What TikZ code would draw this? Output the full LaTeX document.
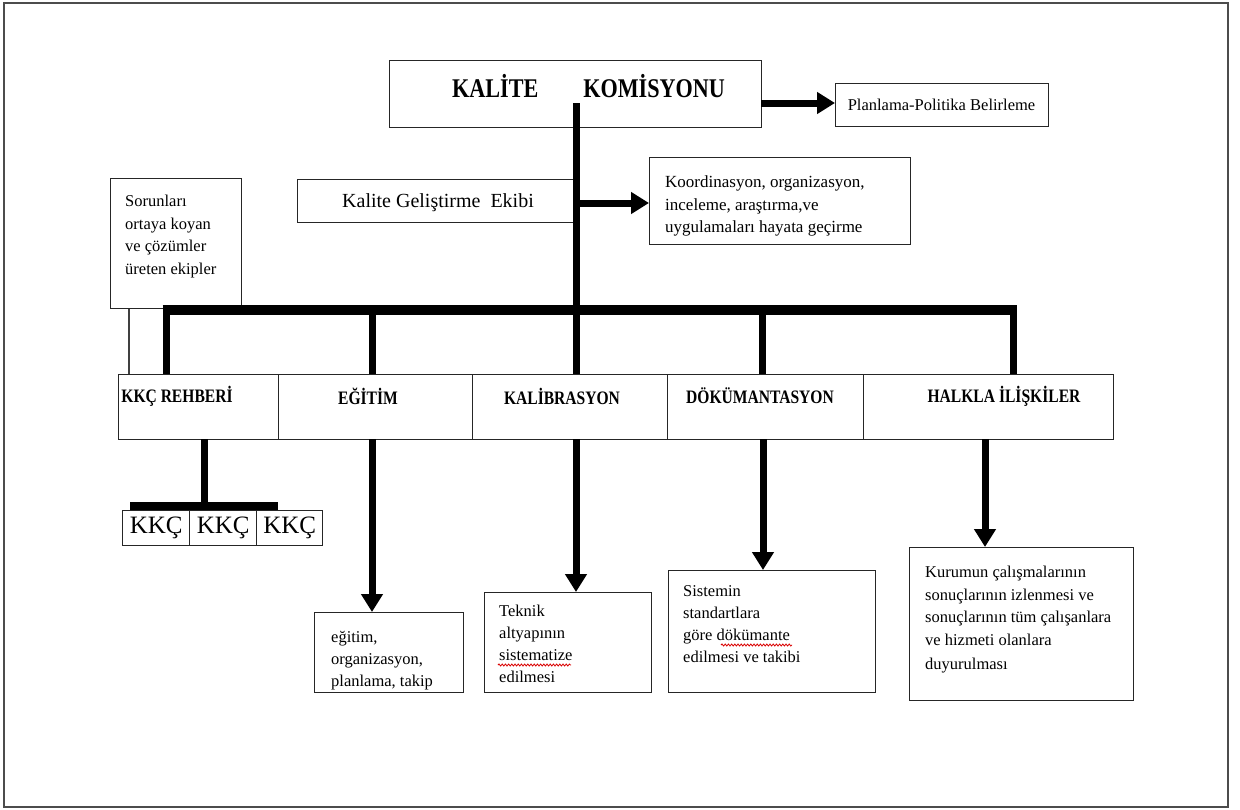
\documentclass[tikz,border=0pt]{standalone}
\usepackage{fontspec}
\setmainfont{Liberation Serif}
\newfontfamily\capsfont[FakeStretch=0.82]{Liberation Serif}
\usetikzlibrary{arrows.meta,decorations.pathmorphing}

\begin{document}
\begin{tikzpicture}[x=1pt,y=-1pt,
  box/.style={draw=black!85, line width=1.3pt, inner sep=0pt, anchor=north west},
  body/.style={anchor=north west, align=left, inner sep=0pt,
               font=\fontsize{16.5}{22}\selectfont},
  lbl/.style={inner sep=0pt, font=\capsfont\bfseries\fontsize{19}{22}\selectfont},
  bus/.style={line width=10pt},
  link/.style={line width=7pt},
  thinlink/.style={line width=1.2pt, draw=black!75},
  arr/.style={line width=7pt, -{Triangle[length=18pt,width=21pt]}},
  spell/.style={draw=red!85!black, line width=0.8pt, decorate,
                decoration={snake, amplitude=1pt, segment length=3.2pt}},
]
\useasboundingbox (0,0) rectangle (1240,809);
\draw[draw=black!70, line width=1.5pt] (4,3) rectangle (1228,807);

% top level
\node[box, minimum width=372pt, minimum height=67pt] (kom) at (389,60) {};
\node[anchor=base west, inner sep=0pt,
      font=\capsfont\bfseries\fontsize{27}{30}\selectfont] (komt) at (452,97)
      {KALİTE\hspace{45pt}KOMİSYONU};
\node[box, minimum width=213pt, minimum height=43pt] (plan) at (835,83) {};
\node[inner sep=0pt, font=\fontsize{16.5}{20}\selectfont] (plant) at (941.5,104.5)
      {Planlama-Politika Belirleme};

% quality improvement team
\node[box, minimum width=278pt, minimum height=43pt] (keg) at (297,179) {};
\node[inner sep=0pt, font=\fontsize{20}{24}\selectfont] (kegt) at (438,203)
      {Kalite Geliştirme\ \ Ekibi};
\node[box, minimum width=261pt, minimum height=87pt] (koor) at (649,157) {};
\node[body, font=\fontsize{17}{22}\selectfont] (koort) at (665,176)
      {Koordinasyon, organizasyon,\\inceleme, araştırma,ve\\uygulamaları hayata geçirme};

% teams box
\node[box, minimum width=131pt, minimum height=130pt] (sorun) at (110,178) {};
\node[body, font=\fontsize{16.5}{22.5}\selectfont] (sorunt) at (125,195)
      {Sorunları\\ortaya koyan\\ve çözümler\\üreten ekipler};

% row of units
\node[box, minimum width=160pt, minimum height=65pt] (rehber) at (118,374) {};
\node[box, minimum width=194pt, minimum height=65pt] (egitim) at (278,374) {};
\node[box, minimum width=195pt, minimum height=65pt] (kalib)  at (472,374) {};
\node[box, minimum width=196pt, minimum height=65pt] (dokum)  at (667,374) {};
\node[box, minimum width=250pt, minimum height=65pt] (halkla) at (863,374) {};
\node[lbl] (rehbert) at (177,396) {KKÇ REHBERİ};
\node[lbl] (egitimt) at (368,396) {EĞİTİM};
\node[lbl] (kalibt)  at (562,396) {KALİBRASYON};
\node[lbl] (dokumt)  at (760,396) {DÖKÜMANTASYON};
\node[lbl] (halklat) at (1004,396) {HALKLA İLİŞKİLER};

% circles under the guide
\node[box, minimum width=67pt, minimum height=35pt] (k1) at (122,510) {};
\node[box, minimum width=67pt, minimum height=35pt] (k2) at (189,510) {};
\node[box, minimum width=66pt, minimum height=35pt] (k3) at (256,510) {};
\foreach \k in {k1,k2,k3}
  \node[inner sep=0pt, font=\fontsize{25}{28}\selectfont] (\k t) at (\k.center) {KKÇ};

% unit duties
\node[box, minimum width=149pt, minimum height=80pt] (egd) at (314,612) {};
\node[body] (egdt) at (331,631.5) {eğitim,\\organizasyon,\\planlama, takip};
\node[box, minimum width=167pt, minimum height=100pt] (kad) at (484,592) {};
\node[body] (kadt) at (499,604.5) {Teknik\\altyapının\\sistematize\\edilmesi};
\node[box, minimum width=207pt, minimum height=122pt] (dod) at (668,570) {};
\node[body] (dodt) at (683,585.5) {Sistemin\\standartlara\\göre dökümante\\edilmesi ve takibi};
\node[box, minimum width=224pt, minimum height=153pt] (had) at (909,547) {};
\node[body, font=\fontsize{16.5}{22.5}\selectfont] (hadt) at (925,566)
      {Kurumun çalışmalarının\\sonuçlarının izlenmesi ve\\sonuçlarının tüm çalışanlara\\ve hizmeti olanlara\\[2pt]duyurulması};

% spelling marks
\draw[spell] (498,665) -- (571,665);
\draw[spell] (721,645) -- (792,645);

% trunk and bus
\coordinate (trunktop) at (576,103);
\coordinate (busL) at (166,310);
\coordinate (busM) at (576,310);
\coordinate (busR) at (1013,310);
\coordinate (jE) at (372,310);
\coordinate (jD) at (762,310);
\draw[link] (trunktop) -- (busM);
\draw[bus] ([xshift=-3.5pt]busL) -- ([xshift=3.5pt]busR);
\draw[link] ([yshift=-3pt]busL) -- (busL |- rehber.north);
\draw[link] (jE) -- (jE |- egitim.north);
\draw[link] (busM) -- (busM |- kalib.north);
\draw[link] (jD) -- (jD |- dokum.north);
\draw[link] ([yshift=-3pt]busR) -- (busR |- halkla.north);
\draw[thinlink] ([xshift=19pt]sorun.south west) -- ([xshift=19pt]sorun.south west |- rehber.north);

% arrows to the side
\coordinate (komR) at (761,103);
\coordinate (kegR) at (576,203);
\draw[arr] (komR) -- (plan.west |- komR);
\draw[arr] (kegR) -- (koor.west |- kegR);

% guide to circles
\coordinate (rg) at (204,439);
\coordinate (rgb) at (204,506);
\coordinate (barL) at (130,506);
\coordinate (barR) at (278,506);
\draw[link] (rg) -- (rgb);
\draw[line width=8pt] (barL) -- (barR);

% unit arrows
\coordinate (aE) at (372,439);
\coordinate (aK) at (576,439);
\coordinate (aD) at (763,439);
\coordinate (aH) at (985,439);
\draw[arr] (aE) -- (aE |- egd.north);
\draw[arr] (aK) -- (aK |- kad.north);
\draw[arr] (aD) -- (aD |- dod.north);
\draw[arr] (aH) -- (aH |- had.north);
\end{tikzpicture}
\end{document}
